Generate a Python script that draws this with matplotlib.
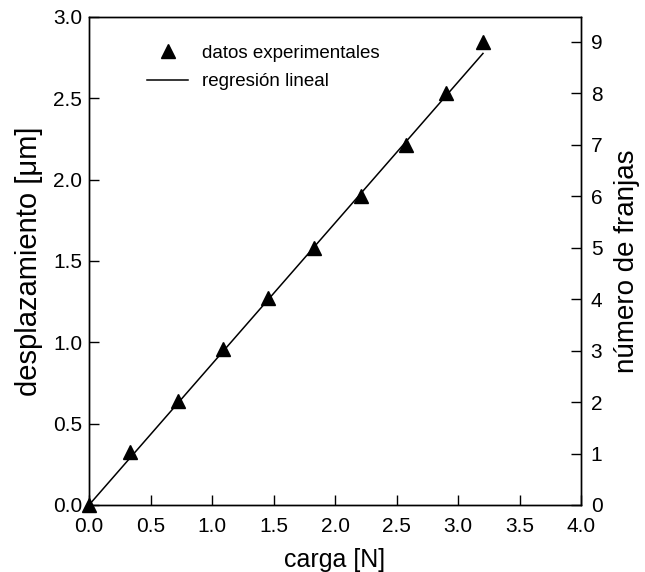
"""Desplazamiento vs carga, con número de franjas en el eje derecho."""

import matplotlib
matplotlib.use("Agg")
import matplotlib.pyplot as plt
from matplotlib.lines import Line2D

plt.rcParams["font.family"] = ["Liberation Sans", "DejaVu Sans"]

# datos
carga = [0.0, 0.333, 0.721, 1.092, 1.453, 1.832, 2.209, 2.575, 2.900, 3.203]
desplazamiento = [0.0, 0.328, 0.641, 0.957, 1.270, 1.581, 1.901, 2.213, 2.530, 2.848]

# recta de regresión (extremos leídos)
reg_x = [0.0, 3.203]
reg_y = [0.0, 2.776]

x_ticks = [0.0, 0.5, 1.0, 1.5, 2.0, 2.5, 3.0, 3.5, 4.0]
y_ticks = [0.0, 0.5, 1.0, 1.5, 2.0, 2.5, 3.0]
franja_ticks = list(range(10))
um_por_franja = 0.3164  # lambda/2, He-Ne

fig = plt.figure(figsize=(6.45, 5.72), dpi=100)
ax = fig.add_axes([89 / 645, 1 - 505 / 572, 492 / 645, 488 / 572])

ax.plot(reg_x, reg_y, "-", color="black", lw=1.1)
ax.plot(carga, desplazamiento, "^", color="black", ms=9.5, clip_on=False)

ax.set_xlim(0, 4.0)
ax.set_ylim(0, 3.0)
ax.set_xticks(x_ticks)
ax.set_yticks(y_ticks)
ax.set_xticklabels([f"{v:.1f}" for v in x_ticks])
ax.set_yticklabels([f"{v:.1f}" for v in y_ticks])
ax.tick_params(direction="in", length=7, width=1.0, labelsize=15,
               top=False, right=False, pad=5)
ax.tick_params(axis="x", pad=9)
ax.set_xlabel("carga [N]", fontsize=18, labelpad=8)
ax.set_ylabel("desplazamiento [μm]", fontsize=21, labelpad=7)

ax2 = ax.twinx()
ax2.set_ylim(0, 3.0 / um_por_franja)
ax2.set_yticks(franja_ticks)
ax2.tick_params(direction="in", length=7, width=1.0, labelsize=15, pad=7)
ax2.set_ylabel("número de franjas", fontsize=20, labelpad=8)

for a in (ax, ax2):
    for s in a.spines.values():
        s.set_linewidth(1.0)

handles = [
    Line2D([], [], marker="^", ls="none", color="black", ms=9.5),
    Line2D([], [], ls="-", color="black", lw=1.1),
]
ax.legend(handles, ["datos experimentales", "regresión lineal"],
          loc="upper left", bbox_to_anchor=(0.118, 0.943), frameon=False,
          fontsize=13.5, handlelength=2.2, handletextpad=0.75,
          labelspacing=0.6, borderpad=0, borderaxespad=0)

fig.savefig("out.png", dpi=100)
